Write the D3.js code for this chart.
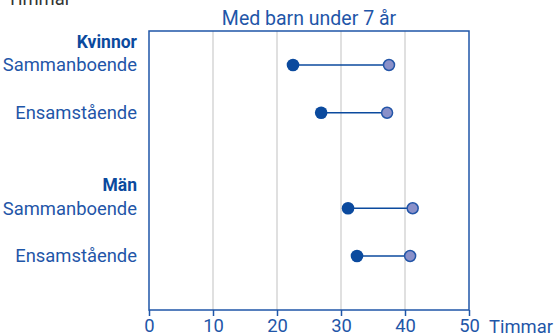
<!DOCTYPE html>
<html>
<head>
<meta charset="utf-8">
<script src="https://cdn.jsdelivr.net/npm/d3@7"></script>
<style>
  body { margin: 0; background: #fff; }
  svg { display: block; font-family: Roboto, "Noto Sans", sans-serif; }
</style>
</head>
<body>
<svg id="chart" width="557" height="335"></svg>
<script>
// data
const groups = ["Kvinnor", "Män"];
const rowLabels = ["Sammanboende", "Ensamstående"];
const kvinnorLow = [22.5, 26.9];
const kvinnorHigh = [37.5, 37.2];
const manLow = [31.1, 32.5];
const manHigh = [41.2, 40.8];
const xTicks = [0, 10, 20, 30, 40, 50];

const title = "Med barn under 7 år";
const unit = "Timmar";

const blue = "#1f56a8";
const dark = "#0b4a9e";
const light = "#8a90c9";
const fs = "18.4px";

const svg = d3.select("#chart");
const margin = { top: 31, right: 88, bottom: 25, left: 149 };
const width = 557 - margin.left - margin.right;
const height = 335 - margin.top - margin.bottom;

// slot keys, with an empty slot between the two groups
const slots = [
  groups[0] + "|" + rowLabels[0], groups[0] + "|" + rowLabels[1], "gap",
  groups[1] + "|" + rowLabels[0], groups[1] + "|" + rowLabels[1]
];

const rows = [
  { key: slots[0], label: rowLabels[0], low: kvinnorLow[0], high: kvinnorHigh[0] },
  { key: slots[1], label: rowLabels[1], low: kvinnorLow[1], high: kvinnorHigh[1] },
  { key: slots[3], label: rowLabels[0], low: manLow[0], high: manHigh[0] },
  { key: slots[4], label: rowLabels[1], low: manLow[1], high: manHigh[1] }
];

const x = d3.scaleLinear().domain([0, 50]).range([0, width]);
const y = d3.scalePoint().domain(slots).range([34, height - 54]);

const g = svg.append("g")
    .attr("transform", "translate(" + margin.left + "," + margin.top + ")");

// grid
g.selectAll(".grid")
    .data(xTicks.slice(1, -1))
    .enter().append("line")
    .attr("x1", d => x(d)).attr("x2", d => x(d))
    .attr("y1", 0).attr("y2", height)
    .attr("stroke", "#d6d6d6")
    .attr("stroke-width", 1.5);

// frame
g.append("rect")
    .attr("x", 0).attr("y", 0)
    .attr("width", width).attr("height", height)
    .attr("fill", "none")
    .attr("stroke", blue)
    .attr("stroke-width", 1.5);

// x axis
const xAxis = d3.axisBottom(x).tickValues(xTicks).tickSize(6).tickPadding(3);
const ax = g.append("g")
    .attr("transform", "translate(0," + height + ")")
    .call(xAxis);
ax.select(".domain").remove();
ax.selectAll(".tick line").attr("stroke", blue).attr("stroke-width", 1.5);
ax.selectAll(".tick text")
    .attr("fill", blue)
    .style("font-size", fs)
    .style("font-family", "Roboto, sans-serif");

svg.append("text")
    .attr("x", margin.left + width + 20)
    .attr("y", 333)
    .attr("fill", blue)
    .style("font-size", fs)
    .text(unit);

// title
svg.append("text")
    .attr("x", margin.left + width / 2)
    .attr("y", 25)
    .attr("text-anchor", "middle")
    .attr("fill", blue)
    .style("font-size", "19.5px")
    .text(title);

// top-left unit label (cut off at top)
svg.append("text")
    .attr("x", 7)
    .attr("y", 5)
    .attr("fill", "#333")
    .style("font-size", fs)
    .text(unit);

// row labels
g.selectAll(".rowlabel")
    .data(rows)
    .enter().append("text")
    .attr("x", -12)
    .attr("y", d => y(d.key))
    .attr("dy", "0.35em")
    .attr("text-anchor", "end")
    .attr("fill", blue)
    .style("font-size", fs)
    .text(d => d.label);

// group headers
g.selectAll(".grouplabel")
    .data(groups)
    .enter().append("text")
    .attr("x", -12)
    .attr("y", d => y(d + "|" + rowLabels[0]) - 23)
    .attr("dy", "0.35em")
    .attr("text-anchor", "end")
    .attr("fill", dark)
    .style("font-size", "17.5px")
    .style("font-weight", "bold")
    .text(d => d);

// dumbbells
g.selectAll(".link")
    .data(rows)
    .enter().append("line")
    .attr("x1", d => x(d.low)).attr("x2", d => x(d.high))
    .attr("y1", d => y(d.key)).attr("y2", d => y(d.key))
    .attr("stroke", dark)
    .attr("stroke-width", 1.5);

g.selectAll(".high")
    .data(rows)
    .enter().append("circle")
    .attr("cx", d => x(d.high))
    .attr("cy", d => y(d.key))
    .attr("r", 5.5)
    .attr("fill", light)
    .attr("stroke", "#2456a8")
    .attr("stroke-width", 1.5);

g.selectAll(".low")
    .data(rows)
    .enter().append("circle")
    .attr("cx", d => x(d.low))
    .attr("cy", d => y(d.key))
    .attr("r", 6.3)
    .attr("fill", dark);
</script>
</body>
</html>
